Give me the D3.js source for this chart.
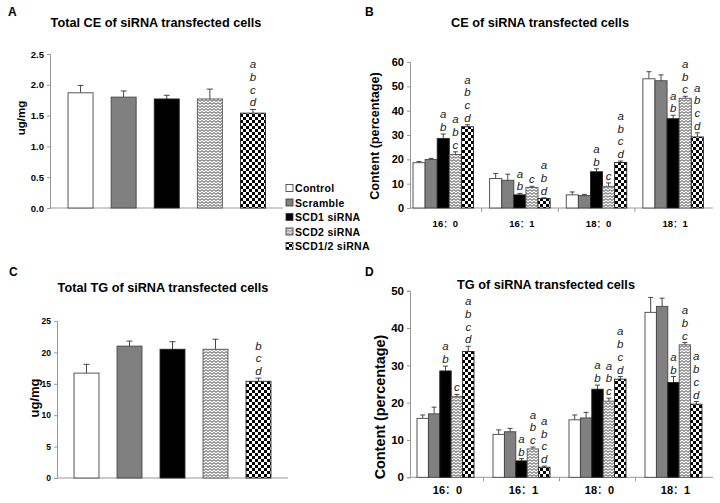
<!DOCTYPE html>
<html><head><meta charset="utf-8">
<script src="https://cdn.jsdelivr.net/npm/d3@7"></script>
<style>
body{margin:0;background:#fff}
text{font-family:"Liberation Sans",Arial,Helvetica,sans-serif}
</style>
</head><body>
<svg id="chart" width="720" height="503" xmlns="http://www.w3.org/2000/svg"></svg>
<script>
// ---------------- DATA ----------------
const groups = ["Control", "Scramble", "SCD1 siRNA", "SCD2 siRNA", "SCD1/2 siRNA"];
const fattyAcids = ["16：0", "16：1", "18：0", "18：1"];

// Panel A: total CE (ug/mg)
const totalCE = [1.87, 1.80, 1.77, 1.77, 1.54];
const totalCEErr = [0.12, 0.10, 0.06, 0.16, 0.06];
const totalCESig = ["", "", "", "", "abcd"];
const ticksA = [0, 0.5, 1.0, 1.5, 2.0, 2.5];

// Panel C: total TG (ug/mg)
const totalTG = [16.7, 21.0, 20.5, 20.5, 15.4];
const totalTGErr = [1.4, 0.8, 1.2, 1.6, 0.5];
const totalTGSig = ["", "", "", "", "bcd"];
const ticksC = [0, 5, 10, 15, 20, 25];

// Panel B: CE composition (%), rows = groups, columns = fatty acids
const ceMean = [
  [18.6, 12.1, 5.4, 53.1],
  [19.9, 11.4, 5.1, 52.3],
  [28.6, 5.4, 14.9, 36.7],
  [22.0, 8.4, 8.9, 45.1],
  [33.4, 3.9, 18.7, 29.2]
];
const ceErr = [
  [0.5, 2.1, 1.2, 2.9],
  [0.5, 2.5, 0.5, 2.4],
  [1.8, 0.6, 1.2, 1.4],
  [1.1, 0.5, 1.4, 0.8],
  [0.8, 0.3, 0.6, 1.7]
];
const ceSig = [
  ["", "", "", ""],
  ["", "", "", ""],
  ["ab", "ab", "ab", "ab"],
  ["abc", "c", "c", "abc"],
  ["abcd", "abd", "abcd", "abcd"]
];
const ticksB = [0, 10, 20, 30, 40, 50, 60];

// Panel D: TG composition (%)
const tgMean = [
  [15.8, 11.5, 15.4, 44.2],
  [17.0, 12.2, 15.9, 45.8],
  [28.5, 4.4, 23.6, 25.4],
  [21.6, 7.6, 20.4, 35.5],
  [33.7, 2.7, 26.3, 19.6]
];
const tgErr = [
  [0.9, 1.2, 1.3, 4.0],
  [1.8, 0.9, 1.5, 2.2],
  [1.3, 0.6, 1.1, 1.6],
  [0.6, 0.5, 0.8, 0.6],
  [1.4, 0.3, 0.7, 0.7]
];
const tgSig = [
  ["", "", "", ""],
  ["", "", "", ""],
  ["ab", "ab", "ab", "ab"],
  ["c", "abc", "abc", "abc"],
  ["abcd", "abcd", "abcd", "abcd"]
];
const ticksD = [0, 10, 20, 30, 40, 50];

// ---------------- DRAWING ----------------
const svg = d3.select("#chart");
const defs = svg.append("defs");

// zigzag pattern
const zz = defs.append("pattern").attr("id", "zig").attr("patternUnits", "userSpaceOnUse")
  .attr("width", 4).attr("height", 3);
zz.append("rect").attr("width", 4).attr("height", 3).attr("fill", "#fff");
zz.append("path").attr("d", "M0,2.4 L2,0.6 L4,2.4").attr("fill", "none")
  .attr("stroke", "#444").attr("stroke-width", 1);

// checker pattern
const ck = defs.append("pattern").attr("id", "chk").attr("patternUnits", "userSpaceOnUse")
  .attr("width", 6).attr("height", 6);
ck.append("rect").attr("width", 6).attr("height", 6).attr("fill", "#fff");
ck.append("rect").attr("width", 3).attr("height", 3).attr("fill", "#000");
ck.append("rect").attr("x", 3).attr("y", 3).attr("width", 3).attr("height", 3).attr("fill", "#000");

const fills = ["#ffffff", "#808080", "#000000", "url(#zig)", "url(#chk)"];
const strokes = ["#444", "#444", "#222", "#555", "#222"];
const color = d3.scaleOrdinal().domain(groups).range(fills);
const strokeC = d3.scaleOrdinal().domain(groups).range(strokes);

const SIG_STEP = 12.7;

function drawYAxis(g, y, axisX, ticks, fmt, fontSize) {
  const ax = g.append("g").attr("transform", `translate(${axisX},0)`)
    .call(d3.axisLeft(y).tickValues(ticks).tickFormat(fmt).tickSize(3).tickPadding(3));
  ax.select(".domain").attr("stroke", "#999");
  ax.selectAll(".tick line").attr("stroke", "#999");
  ax.selectAll(".tick text").attr("font-size", fontSize).attr("font-weight", "bold")
    .attr("fill", "#000").style("font-family", '"Liberation Sans",Arial,sans-serif');
}

function drawSig(g, cx, yTop, s, fontSize) {
  const n = s.length;
  for (let i = 0; i < n; i++) {
    g.append("text").attr("x", cx).attr("y", yTop - 3 - (n - 1 - i) * SIG_STEP)
      .attr("text-anchor", "middle").attr("font-style", "italic")
      .attr("font-size", fontSize).attr("fill", "#222").text(s[i]);
  }
}

function errBar(g, cx, y0, y1, cap) {
  g.append("line").attr("x1", cx).attr("x2", cx).attr("y1", y0).attr("y2", y1)
    .attr("stroke", "#333").attr("stroke-width", 0.9);
  g.append("line").attr("x1", cx - cap / 2).attr("x2", cx + cap / 2).attr("y1", y1).attr("y2", y1)
    .attr("stroke", "#333").attr("stroke-width", 0.9);
}

function catLabel(g, x, y, size, label) {
  const parts = label.split("：");
  const t = g.append("text").attr("x", x).attr("y", y).attr("text-anchor", "middle")
    .attr("font-weight", "bold").attr("font-size", size);
  t.append("tspan").text(parts[0]);
  t.append("tspan").style("font-family", '"Noto Sans CJK SC",sans-serif').attr("font-weight", "normal").text("：");
  t.append("tspan").text(parts[1]);
}

function simplePanel(o) {
  const g = svg.append("g");
  const x = d3.scaleBand().domain(groups).range(o.xRange).paddingInner(0.42).paddingOuter(0.21);
  const y = d3.scaleLinear().domain([0, o.yMax]).range(o.yRange);
  drawYAxis(g, y, o.axisX, o.ticks, o.fmt, o.tickFont);
  g.append("line").attr("x1", o.axisX).attr("x2", o.axisEnd)
    .attr("y1", y(0)).attr("y2", y(0)).attr("stroke", "#999");
  groups.forEach((k, i) => {
    const bx = x(k), bw = x.bandwidth(), cx = bx + bw / 2;
    errBar(g, cx, y(o.vals[i]), y(o.vals[i] + o.errs[i]), 6);
    g.append("rect").attr("x", bx).attr("y", y(o.vals[i])).attr("width", bw)
      .attr("height", y(0) - y(o.vals[i])).attr("fill", color(k))
      .attr("stroke", strokeC(k)).attr("stroke-width", 0.9);
    drawSig(g, cx, y(o.vals[i] + o.errs[i]), o.sig[i], o.sigFont);
  });
  g.append("text").attr("x", o.titleX).attr("y", o.titleY).attr("text-anchor", "middle")
    .attr("font-weight", "bold").attr("font-size", 12.7).text(o.title);
  g.append("text").attr("transform", `translate(${o.ylabX},${o.ylabY}) rotate(-90)`)
    .attr("text-anchor", "middle").attr("font-weight", "bold").attr("font-size", o.ylabFont).text("ug/mg");
  g.append("text").attr("x", o.letterX).attr("y", o.letterY).attr("font-weight", "bold")
    .attr("font-size", 12).text(o.letter);
}

function groupedPanel(o) {
  const g = svg.append("g");
  const x0 = d3.scaleBand().domain(fattyAcids).range(o.xRange).padding(0);
  const x1 = d3.scaleBand().domain(groups).range(o.innerRange).padding(0);
  const y = d3.scaleLinear().domain([0, o.yMax]).range(o.yRange);
  drawYAxis(g, y, o.axisX, o.ticks, d3.format("d"), o.tickFont);
  g.append("line").attr("x1", o.axisX).attr("x2", o.axisEnd)
    .attr("y1", y(0)).attr("y2", y(0)).attr("stroke", "#999");
  fattyAcids.slice(1).forEach(f => {
    g.append("line").attr("x1", x0(f)).attr("x2", x0(f)).attr("y1", y(0)).attr("y2", y(0) + 4)
      .attr("stroke", "#999");
  });
  fattyAcids.forEach((f, j) => {
    groups.forEach((k, i) => {
      const v = o.mean[i][j], e = o.err[i][j];
      const bx = x0(f) + x1(k), bw = x1.bandwidth(), cx = bx + bw / 2;
      errBar(g, cx, y(v), y(v + e), 5);
      g.append("rect").attr("x", bx).attr("y", y(v)).attr("width", bw)
        .attr("height", y(0) - y(v)).attr("fill", color(k))
        .attr("stroke", strokeC(k)).attr("stroke-width", 0.9);
      drawSig(g, cx, y(v + e), o.sig[i][j], o.sigFont);
    });
    catLabel(g, x0(f) + x0.bandwidth() / 2 + o.catShift, o.catY, o.catFont, f);
  });
  g.append("text").attr("x", o.titleX).attr("y", o.titleY).attr("text-anchor", "middle")
    .attr("font-weight", "bold").attr("font-size", 12.7).text(o.title);
  g.append("text").attr("transform", `translate(${o.ylabX},${o.ylabY}) rotate(-90)`)
    .attr("text-anchor", "middle").attr("font-weight", "bold").attr("font-size", o.ylabFont)
    .text("Content (percentage)");
  g.append("text").attr("x", o.letterX).attr("y", o.letterY).attr("font-weight", "bold")
    .attr("font-size", 12).text(o.letter);
}

simplePanel({
  xRange: [59, 274.5], yRange: [208, 54], yMax: 2.5, ticks: ticksA, fmt: d3.format(".1f"),
  axisX: 50, axisEnd: 283, tickFont: 9.5, vals: totalCE, errs: totalCEErr, sig: totalCESig, sigFont: 11.5,
  title: "Total CE of siRNA transfected cells", titleX: 156, titleY: 27,
  ylabX: 25, ylabY: 118, ylabFont: 11.5, letter: "A", letterX: 8, letterY: 16
});

simplePanel({
  xRange: [65, 280], yRange: [478, 321], yMax: 25, ticks: ticksC, fmt: d3.format("d"),
  axisX: 57, axisEnd: 288, tickFont: 8.5, vals: totalTG, errs: totalTGErr, sig: totalTGSig, sigFont: 11.5,
  title: "Total TG of siRNA transfected cells", titleX: 163, titleY: 292,
  ylabX: 39, ylabY: 398, ylabFont: 13, letter: "C", letterX: 9, letterY: 276
});

groupedPanel({
  xRange: [405, 711.5], innerRange: [8, 68.5], yRange: [208, 62], yMax: 60, ticks: ticksB,
  axisX: 410, axisEnd: 713, tickFont: 11, mean: ceMean, err: ceErr, sig: ceSig, sigFont: 11.5,
  catY: 227, catFont: 9.5, catShift: 2,
  title: "CE of siRNA transfected cells", titleX: 540, titleY: 27,
  ylabX: 379, ylabY: 136, ylabFont: 12.7, letter: "B", letterX: 365, letterY: 16
});

groupedPanel({
  xRange: [407.5, 711.5], innerRange: [9.5, 66.5], yRange: [477.3, 290.7], yMax: 50, ticks: ticksD,
  axisX: 410, axisEnd: 713, tickFont: 11.5, mean: tgMean, err: tgErr, sig: tgSig, sigFont: 11.5,
  catY: 494, catFont: 11, catShift: 2,
  title: "TG of siRNA transfected cells", titleX: 546, titleY: 289,
  ylabX: 385, ylabY: 407, ylabFont: 14.4, letter: "D", letterX: 365, letterY: 276
});

// Legend
const leg = svg.append("g").attr("transform", "translate(286,183)");
groups.forEach((k, i) => {
  const row = leg.append("g").attr("transform", `translate(0,${i * 14.5})`);
  row.append("rect").attr("x", 0).attr("y", 1.5).attr("width", 7).attr("height", 7)
    .attr("fill", color(k)).attr("stroke", "#333").attr("stroke-width", 0.8);
  row.append("text").attr("x", 9).attr("y", 9).attr("font-size", 10.5).attr("font-weight", "bold")
    .attr("letter-spacing", 0.3).text(k);
});
</script>
</body></html>
